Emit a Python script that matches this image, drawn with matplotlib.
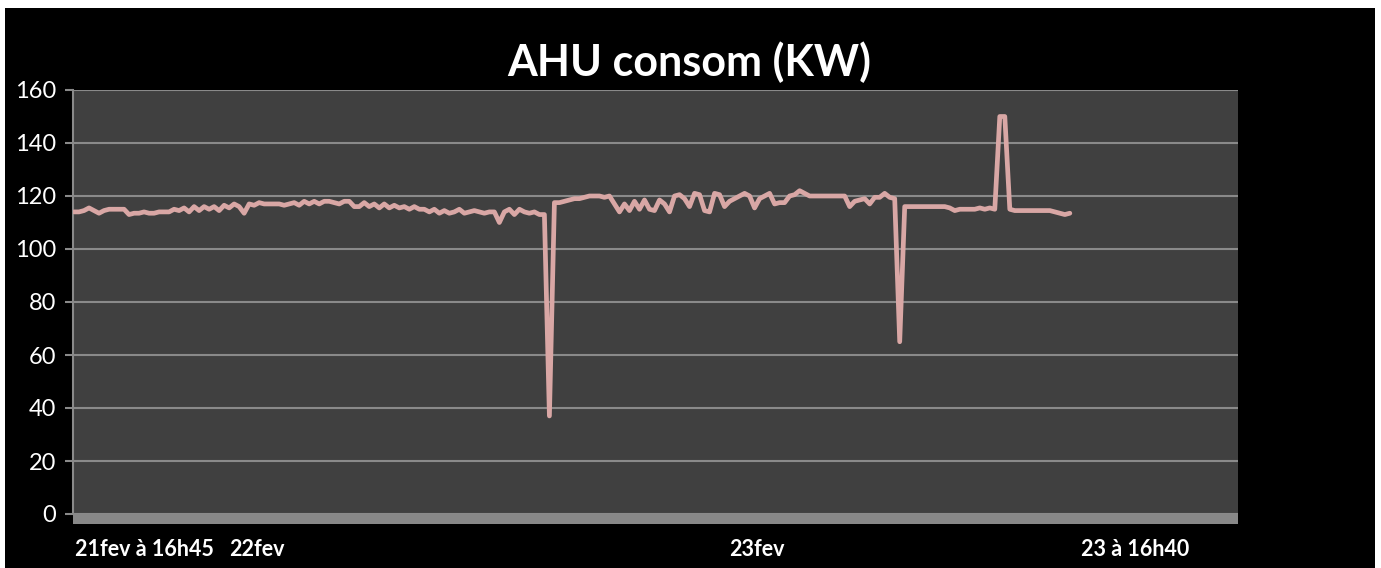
import matplotlib.pyplot as plt
from matplotlib.patches import Rectangle
import numpy as np

# AHU consumption (kW), one sample per step
ahu_kw = [
    114, 114, 114.5, 115.5, 114.5, 113.5, 114.5, 115, 115, 115,
    115, 113, 113.5, 113.5, 114, 113.5, 113.5, 114, 114, 114,
    115, 114.5, 115.5, 114, 116, 114.5, 116, 115, 116, 114.5,
    116.5, 115.5, 117, 116, 113.5, 117, 116.5, 117.5, 117, 117,
    117, 117, 116.5, 117, 117.5, 116.5, 118, 117, 118, 117,
    118, 118, 117.5, 117, 118, 118, 116, 116, 117.5, 116,
    117, 115.5, 117, 115.5, 116.5, 115.5, 116, 115, 116, 115,
    115, 114, 115, 113.5, 114.5, 113.5, 114, 115, 113.5, 114,
    114.5, 114, 113.5, 114, 114, 110, 114, 115, 113, 115,
    114, 113.5, 114, 113, 113, 37, 117.5, 117.5, 118, 118.5,
    119, 119, 119.5, 120, 120, 120, 119.5, 120, 117, 114,
    117, 114.5, 118, 115, 118.5, 115, 114.5, 118.5, 117, 114,
    120, 120.5, 119, 116, 121, 120.5, 114.5, 114, 121, 120.5,
    116, 118, 119, 120, 121, 120, 115.5, 119, 120, 121,
    117, 117.5, 117.5, 120, 120.5, 122, 121, 120, 120, 120,
    120, 120, 120, 120, 120, 116, 118, 118.5, 119, 117,
    119.5, 119.5, 121, 119.5, 119, 65, 116, 116, 116, 116,
    116, 116, 116, 116, 116, 115.5, 114.5, 115, 115, 115,
    115, 115.5, 115, 115.5, 115, 150, 150, 115, 114.5, 114.5,
    114.5, 114.5, 114.5, 114.5, 114.5, 114.5, 114, 113.5, 113, 113.5,
]

x_labels = ["21fev à 16h45", "22fev", "23fev", "23 à 16h40"]
x_label_pos = [14, 36.6, 136.4, 212]

bg = "black"
plot_bg = "#404040"
grid_col = "#8a8a8a"
line_col = "#d9a7a5"

fig = plt.figure(figsize=(13.81, 5.68), dpi=100, facecolor="white")
fig.patches.append(Rectangle((5 / 1381, 0), 1370 / 1381, 560 / 568,
                             transform=fig.transFigure, facecolor=bg,
                             edgecolor="none", zorder=-10))

ax = fig.add_axes([73 / 1381, 54 / 568, 1165 / 1381, 424 / 568])
ax.set_facecolor(plot_bg)

x = np.arange(len(ahu_kw))
ax.plot(x, ahu_kw, color=line_col, lw=3.4, solid_joinstyle="round",
        solid_capstyle="round", zorder=3)

ax.set_xlim(-0.2, 232.6)
ax.set_ylim(0, 160)
ax.set_yticks(np.arange(0, 161, 20))
ax.yaxis.grid(True, color=grid_col, lw=1.5)
ax.set_axisbelow(True)

for s in ["top", "right", "bottom"]:
    ax.spines[s].set_visible(False)
ax.spines["left"].set_color(grid_col)
ax.spines["left"].set_linewidth(1.5)

ax.tick_params(axis="y", colors=grid_col, length=6, width=1.5,
               labelcolor="white", labelsize=17, pad=6)
for lab in ax.get_yticklabels():
    lab.set_family("Lato")

ax.set_xticks(x_label_pos)
ax.set_xticklabels(x_labels, fontsize=15.5, fontweight="bold",
                   color="white", family="Lato")
ax.tick_params(axis="x", length=0, pad=18)

# grey floor under the plot area
ax.add_patch(Rectangle((0, -10 / 424), 1, 10 / 424, transform=ax.transAxes,
                       facecolor="#888888", edgecolor="none", clip_on=False,
                       zorder=2))

fig.text(689 / 1381, 1 - 62 / 568, "AHU consom (KW)", ha="center",
         va="center", color="white", fontsize=31, fontweight="bold",
         family="Lato")

fig.savefig("out.png", dpi=100, facecolor=fig.get_facecolor())
